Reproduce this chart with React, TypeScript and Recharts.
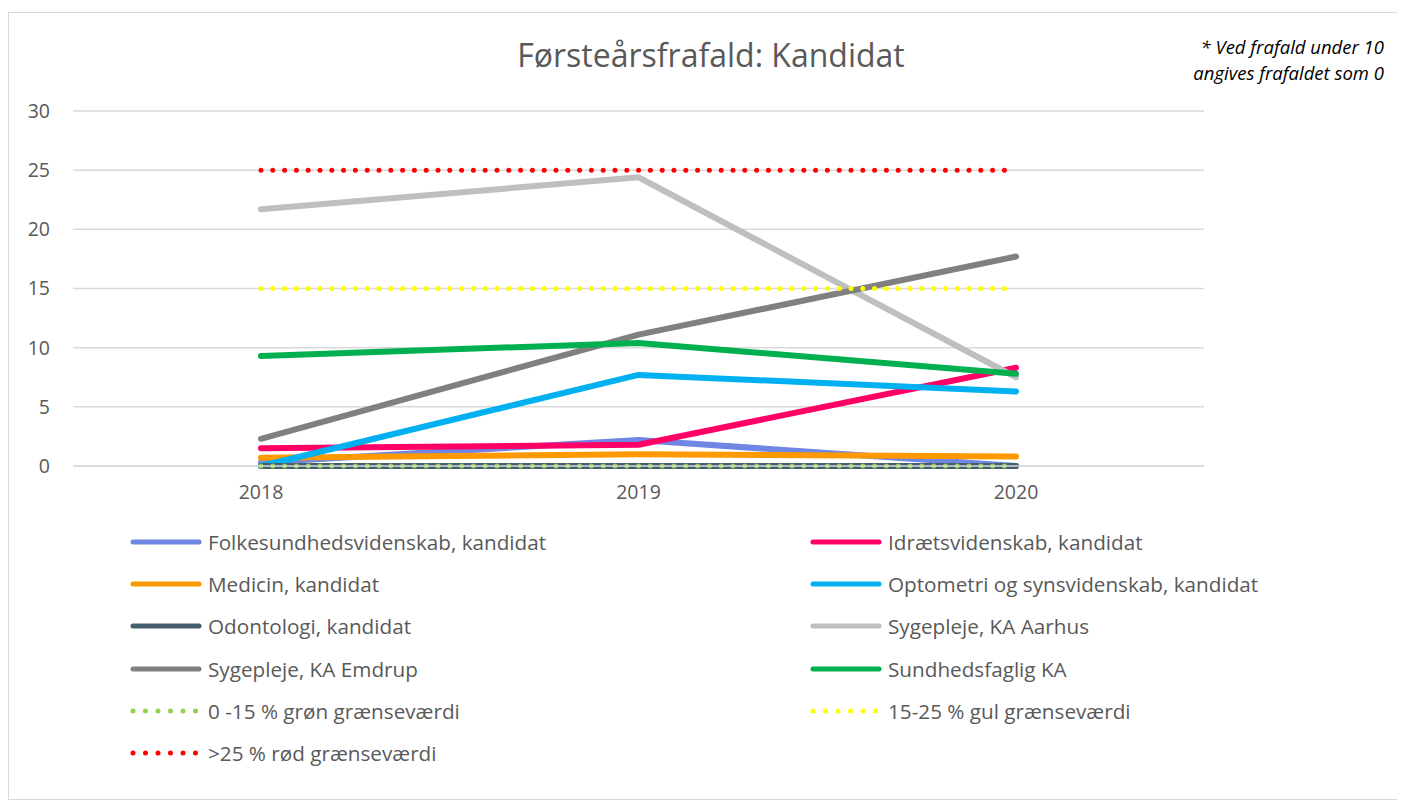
import React from "react";
import { LineChart, Line, XAxis, YAxis, CartesianGrid } from "recharts";

const years = ["2018", "2019", "2020"];
const yTicks = [0, 5, 10, 15, 20, 25, 30];

const folkesundhed = [0.3, 2.2, 0];
const idraet = [1.5, 1.8, 8.3];
const medicin = [0.7, 1.0, 0.8];
const optometri = [0, 7.7, 6.3];
const odontologi = [0, 0, 0];
const sygAarhus = [21.7, 24.4, 7.5];
const sygEmdrup = [2.3, 11.1, 17.7];
const sundhedsfaglig = [9.3, 10.4, 7.8];
const groen = [0, 0, 0];
const gul = [15, 15, 15];
const roed = [25, 25, 25];

const seriesNames = [
  "Folkesundhedsvidenskab, kandidat",
  "Idrætsvidenskab, kandidat",
  "Medicin, kandidat",
  "Optometri og synsvidenskab, kandidat",
  "Odontologi, kandidat",
  "Sygepleje, KA Aarhus",
  "Sygepleje, KA Emdrup",
  "Sundhedsfaglig KA",
  "0 -15 % grøn grænseværdi",
  "15-25 % gul grænseværdi",
  ">25 % rød grænseværdi",
];
const seriesValues = [
  folkesundhed, idraet, medicin, optometri, odontologi,
  sygAarhus, sygEmdrup, sundhedsfaglig, groen, gul, roed,
];
const seriesColors = [
  "#6F86E2", "#FF0066", "#FF9900", "#00B0F0", "#445E6E",
  "#BFBFBF", "#808080", "#00B050", "#92D050", "#FFFF00", "#FF0000",
];
const seriesDotted = [false, false, false, false, false, false, false, false, true, true, true];

const data = years.map((y, i) => {
  const row: Record<string, string | number> = { year: y };
  seriesValues.forEach((vals, s) => {
    row["s" + s] = vals[i];
  });
  return row;
});

const FONT = "'Open Sans', sans-serif";
const TEXT = "#595959";

export default function App() {
  return (
    <div
      style={{
        position: "relative",
        width: 1395,
        height: 788,
        marginTop: 4,
        border: "1px solid #d9d9d9",
        background: "#fff",
        fontFamily: FONT,
        boxSizing: "border-box",
      }}
    >
      <div
        style={{
          position: "absolute",
          left: 0,
          width: 1404,
          top: 20,
          textAlign: "center",
          fontSize: 32,
          color: TEXT,
          whiteSpace: "nowrap",
        }}
      >
        Førsteårsfrafald: Kandidat
      </div>
      <div
        style={{
          position: "absolute",
          right: 18,
          top: 21,
          textAlign: "right",
          fontSize: 18.5,
          fontStyle: "italic",
          color: "#000",
          lineHeight: "26px",
          whiteSpace: "nowrap",
        }}
      >
        * Ved frafald under 10
        <br />
        angives frafaldet som 0
      </div>
      <div style={{ position: "absolute", left: 0, top: 0 }}>
        <LineChart
          width={1393}
          height={510}
          data={data}
          margin={{ top: 98, right: 198, bottom: 27, left: 0 }}
        >
          <CartesianGrid vertical={false} stroke="#d9d9d9" strokeWidth={1.5} />
          <XAxis
            dataKey="year"
            padding={{ left: 188, right: 188 }}
            axisLine={{ stroke: "#d9d9d9", strokeWidth: 1.5 }}
            tickLine={false}
            tickSize={0}
            tickMargin={19}
            height={30}
            tick={{ fill: TEXT, fontSize: 19.5, fontFamily: FONT }}
          />
          <YAxis
            domain={[0, 30]}
            ticks={yTicks}
            axisLine={false}
            tickLine={false}
            tickSize={0}
            tickMargin={23}
            width={64}
            tick={{ fill: TEXT, fontSize: 19.5, fontFamily: FONT }}
          />
          {seriesNames.map((name, s) => (
            <Line
              key={name}
              name={name}
              dataKey={"s" + s}
              stroke={seriesColors[s]}
              strokeWidth={seriesDotted[s] ? 5 : 6}
              strokeDasharray={seriesDotted[s] ? "0 11.8" : undefined}
              strokeLinecap="round"
              strokeLinejoin="round"
              dot={false}
              activeDot={false}
              isAnimationActive={false}
            />
          ))}
        </LineChart>
      </div>
      {seriesNames.map((name, s) => {
        const col = s % 2;
        const row = Math.floor(s / 2);
        const left = col === 0 ? 121 : 801;
        const top = 529 - 15 + row * 42.2;
        return (
          <div
            key={name}
            style={{
              position: "absolute",
              left,
              top,
              height: 30,
              display: "flex",
              alignItems: "center",
              fontSize: 20.7,
              color: TEXT,
              whiteSpace: "nowrap",
            }}
          >
            <svg width={78} height={30} style={{ display: "block" }}>
              <line
                x1={3}
                x2={69}
                y1={15}
                y2={15}
                stroke={seriesColors[s]}
                strokeWidth={5}
                strokeLinecap="round"
                strokeDasharray={seriesDotted[s] ? "0 12.5" : undefined}
              />
            </svg>
            <span>{name}</span>
          </div>
        );
      })}
    </div>
  );
}
